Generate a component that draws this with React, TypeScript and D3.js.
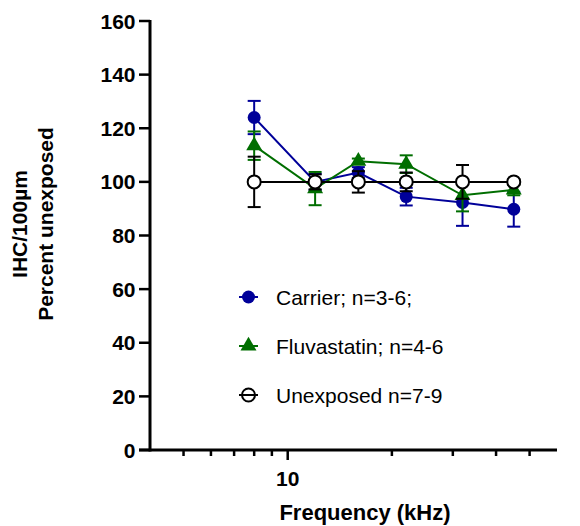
import React from 'react';
import * as d3 from 'd3';

const freqs = [8, 12, 16, 22, 32, 45];
const carrierMean = [124, 100, 103.5, 94.5, 92.3, 89.8];
const carrierErr = [6.2, 3, 2, 3.3, 8.7, 6.5];
const fluvaMean = [113.5, 97.5, 107.7, 106.6, 95, 97];
const fluvaErr = [5.3, 6.2, 1, 3.3, 6, 2];
const unexpMean = [100, 100, 100, 100, 100, 100];
const unexpErr = [9.4, 2.8, 4, 3.5, 6.3, 1];

const yTicks = [0, 20, 40, 60, 80, 100, 120, 140, 160];
const xMinorTicks = [5, 6, 7, 8, 9, 20, 30, 40, 50];
const xMajorTicks = [10];

const legendLabels = ['Carrier; n=3-6;', 'Fluvastatin; n=4-6', 'Unexposed n=7-9'];

const FONT = '"Liberation Sans", Arial, sans-serif';

type Series = { mean: number[]; err: number[]; color: string; shape: 'circle' | 'triangle' | 'open' };

const series: Series[] = [
  { mean: carrierMean, err: carrierErr, color: '#000099', shape: 'circle' },
  { mean: fluvaMean, err: fluvaErr, color: '#006e00', shape: 'triangle' },
  { mean: unexpMean, err: unexpErr, color: '#000000', shape: 'open' },
];

function Marker({ shape, color, x, y, fill = '#fff' }: { shape: string; color: string; x: number; y: number; fill?: string }) {
  if (shape === 'circle') return <circle cx={x} cy={y} r={6.5} fill={color} />;
  if (shape === 'triangle') {
    const tri = d3.symbol(d3.symbolTriangle, 110)();
    return <path d={tri || ''} transform={`translate(${x},${y})`} fill={color} />;
  }
  return <circle cx={x} cy={y} r={6.5} fill={fill} stroke={color} strokeWidth={2} />;
}

export default function App() {
  const x = d3.scaleLog().domain([4, 60]).range([150, 557]);
  const y = d3.scaleLinear().domain([0, 160]).range([450, 21]);
  const lineGen = d3
    .line<number>()
    .x((_, i) => x(freqs[i]))
    .y((v) => y(v));

  return (
    <svg width={580} height={526} style={{ position: 'absolute', left: 0, top: 0, background: '#fff' }}>
      {/* y axis */}
      <line x1={150} x2={150} y1={y(160) - 1} y2={451.5} stroke="#000" strokeWidth={3} />
      {yTicks.map((t) => (
        <g key={t}>
          <line x1={139} x2={150} y1={y(t)} y2={y(t)} stroke="#000" strokeWidth={2.5} />
          <text x={135.5} y={y(t)} dy="0.36em" textAnchor="end" fontFamily={FONT} fontWeight="bold" fontSize={21}>
            {t}
          </text>
        </g>
      ))}
      {/* x axis */}
      <line x1={139} x2={x(60)} y1={450} y2={450} stroke="#000" strokeWidth={3} />
      {xMinorTicks.map((t) => (
        <line key={t} x1={x(t)} x2={x(t)} y1={450} y2={456} stroke="#000" strokeWidth={2.5} />
      ))}
      {xMajorTicks.map((t) => (
        <g key={t}>
          <line x1={x(t)} x2={x(t)} y1={450} y2={460} stroke="#000" strokeWidth={2.5} />
          <text x={x(t)} y={486} textAnchor="middle" fontFamily={FONT} fontWeight="bold" fontSize={21}>
            {t}
          </text>
        </g>
      ))}
      <text x={365} y={520} textAnchor="middle" fontFamily={FONT} fontWeight="bold" fontSize={22}>
        Frequency (kHz)
      </text>
      <text transform="translate(27,224) rotate(-90)" textAnchor="middle" fontFamily={FONT} fontWeight="bold" fontSize={21}>
        IHC/100µm
      </text>
      <text transform="translate(53,224) rotate(-90)" textAnchor="middle" fontFamily={FONT} fontWeight="bold" fontSize={21}>
        Percent unexposed
      </text>

      {/* series */}
      {series.map((s, si) => (
        <g key={si}>
          <path d={lineGen(s.mean) || ''} fill="none" stroke={s.color} strokeWidth={2} />
          {s.mean.map((m, i) => {
            const cx = x(freqs[i]);
            return (
              <g key={i} stroke={s.color} strokeWidth={2}>
                <line x1={cx} x2={cx} y1={y(m - s.err[i])} y2={y(m + s.err[i])} />
                <line x1={cx - 6.5} x2={cx + 6.5} y1={y(m + s.err[i])} y2={y(m + s.err[i])} />
                <line x1={cx - 6.5} x2={cx + 6.5} y1={y(m - s.err[i])} y2={y(m - s.err[i])} />
              </g>
            );
          })}
          {s.mean.map((m, i) => (
            <Marker key={i} shape={s.shape} color={s.color} x={x(freqs[i])} y={y(m)} />
          ))}
        </g>
      ))}

      {/* legend */}
      {series.map((s, i) => {
        const ly = 297 + i * 49;
        return (
          <g key={i}>
            <line x1={239} x2={258} y1={ly} y2={ly} stroke={s.color} strokeWidth={2} />
            <Marker shape={s.shape} color={s.color} x={248.5} y={ly} fill="none" />
            <text x={276} y={ly} dy="0.36em" fontFamily={FONT} fontSize={21} fill="#000">
              {legendLabels[i]}
            </text>
          </g>
        );
      })}
    </svg>
  );
}
